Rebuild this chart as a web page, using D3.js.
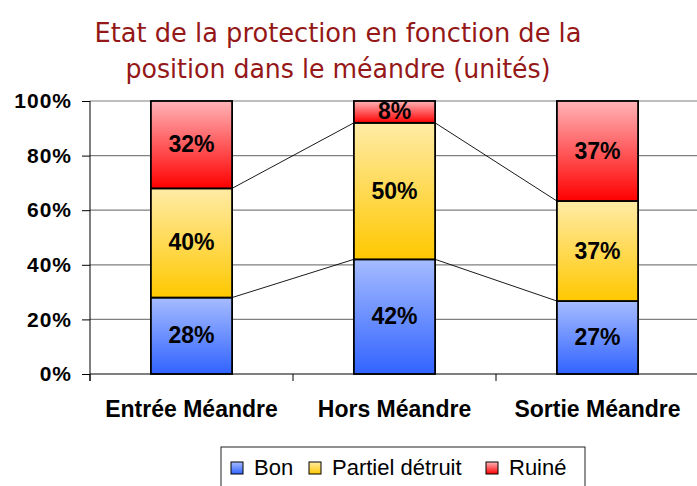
<!DOCTYPE html>
<html><head><meta charset="utf-8">
<script src="https://cdn.jsdelivr.net/npm/d3@7"></script>
<style>body{margin:0;background:#fff}svg{display:block}</style>
</head><body>
<svg id="c" width="697" height="486"></svg>
<script>
const categories = ["Entrée Méandre", "Hors Méandre", "Sortie Méandre"];
const seriesNames = ["Bon", "Partiel détruit", "Ruiné"];
const bon = [28, 42, 27];
const partiel = [40, 50, 37];
const ruine = [32, 8, 37];
const yTicks = [0, 0.2, 0.4, 0.6, 0.8, 1];
const titleLines = ["Etat de la protection en fonction de la", "position dans le méandre (unités)"];

(function () {
const svg = d3.select("#c");
const left = 90, plotTop = 101, bottom = 374, bandW = 203;
const FONT = "'Liberation Sans', Arial, sans-serif";
const x = d3.scaleBand().domain(categories).range([left, left + bandW * categories.length]).paddingInner(0.6).paddingOuter(0.3);
const y = d3.scaleLinear().domain([0, 1]).range([bottom, plotTop]);

const rows = categories.map((c, i) => ({cat: c, Bon: bon[i], "Partiel détruit": partiel[i], "Ruiné": ruine[i]}));
const norm = rows.map(r => {
  const t = r.Bon + r["Partiel détruit"] + r["Ruiné"];
  return {cat: r.cat, Bon: r.Bon / t, "Partiel détruit": r["Partiel détruit"] / t, "Ruiné": r["Ruiné"] / t};
});
const stack = d3.stack().keys(seriesNames)(norm);

const grads = [["#a6bcff", "#3163ff"], ["#ffeba6", "#ffc800"], ["#ffb4b8", "#ff0000"]];
const defs = svg.append("defs");
grads.forEach((g, i) => {
  const lg = defs.append("linearGradient").attr("id", "g" + i).attr("x1", 0).attr("y1", 0).attr("x2", 0).attr("y2", 1);
  lg.append("stop").attr("offset", 0).attr("stop-color", g[0]);
  lg.append("stop").attr("offset", 1).attr("stop-color", g[1]);
});

// title
const titleW = [487, 425];
svg.append("g").selectAll("text").data(titleLines).join("text")
  .attr("x", 338).attr("y", (d, i) => 42 + i * 36).attr("text-anchor", "middle")
  .attr("font-family", "'DejaVu Sans',sans-serif").attr("font-size", 26)
  .attr("textLength", (d, i) => titleW[i]).attr("lengthAdjust", "spacingAndGlyphs")
  .attr("fill", "#951818").text(d => d);

// gridlines
svg.append("g").selectAll("line").data(yTicks.slice(1)).join("line")
  .attr("x1", left).attr("x2", 697).attr("y1", d => y(d)).attr("y2", d => y(d))
  .attr("stroke", "#7f7f7f").attr("stroke-width", 1.2);

// y axis
const yAxis = d3.axisLeft(y).tickValues(yTicks).tickFormat(d3.format(".0%")).tickSize(8).tickPadding(10);
const ya = svg.append("g").attr("transform", `translate(${left},0)`).call(yAxis);
ya.select(".domain").remove();
ya.selectAll("line").attr("stroke", "#000");
ya.selectAll("text").attr("font-family", FONT).attr("font-weight", "bold").attr("font-size", 21)
  .attr("letter-spacing", 1).attr("fill", "#000");
svg.append("line").attr("x1", left).attr("x2", left).attr("y1", plotTop).attr("y2", bottom + 7).attr("stroke", "#000");

// bars
stack.forEach((s, si) => {
  svg.append("g").selectAll("rect").data(s).join("rect")
    .attr("x", (d, i) => x(categories[i])).attr("width", x.bandwidth())
    .attr("y", d => y(d[1])).attr("height", d => y(d[0]) - y(d[1]))
    .attr("fill", `url(#g${si})`).attr("stroke", "#000").attr("stroke-width", 1.8);
});

// series lines
stack.slice(0, 2).forEach(s => {
  for (let i = 0; i < categories.length - 1; i++) {
    svg.append("line")
      .attr("x1", x(categories[i]) + x.bandwidth()).attr("y1", y(s[i][1]))
      .attr("x2", x(categories[i + 1])).attr("y2", y(s[i + 1][1]))
      .attr("stroke", "#000").attr("stroke-width", 0.9);
  }
});

// labels
const raw = [bon, partiel, ruine];
stack.forEach((s, si) => {
  svg.append("g").selectAll("text").data(s).join("text")
    .attr("x", (d, i) => x(categories[i]) + x.bandwidth() / 2)
    .attr("y", d => (y(d[0]) + y(d[1])) / 2 + 7.5)
    .attr("text-anchor", "middle").attr("font-family", FONT)
    .attr("font-weight", "bold").attr("font-size", 23).attr("fill", "#000")
    .text((d, i) => raw[si][i] + "%");
});

// x axis
svg.append("line").attr("x1", left).attr("x2", 697).attr("y1", bottom).attr("y2", bottom).attr("stroke", "#000").attr("stroke-width", 1.2);
const bounds = d3.range(categories.length).map(i => left + i * bandW);
svg.append("g").selectAll("line").data(bounds).join("line")
  .attr("x1", d => d).attr("x2", d => d).attr("y1", bottom).attr("y2", bottom + 7).attr("stroke", "#000");
svg.append("g").selectAll("text").data(categories).join("text")
  .attr("x", d => x(d) + x.bandwidth() / 2).attr("y", 417).attr("text-anchor", "middle")
  .attr("font-family", FONT).attr("font-weight", "bold").attr("font-size", 23)
  .attr("fill", "#000").text(d => d);

// legend
const lg = svg.append("g");
lg.append("rect").attr("x", 221).attr("y", 447).attr("width", 364).attr("height", 45).attr("fill", "#fff").attr("stroke", "#222").attr("stroke-width", 1);
const lx = [231, 309, 486];
seriesNames.forEach((n, i) => {
  lg.append("rect").attr("x", lx[i]).attr("y", 462).attr("width", 12).attr("height", 12)
    .attr("fill", `url(#g${i})`).attr("stroke", "#000").attr("stroke-width", 1);
  lg.append("text").attr("x", lx[i] + 23).attr("y", 475).attr("font-family", FONT)
    .attr("font-size", 22).attr("fill", "#000").text(n);
});
})();
</script>
</body></html>
